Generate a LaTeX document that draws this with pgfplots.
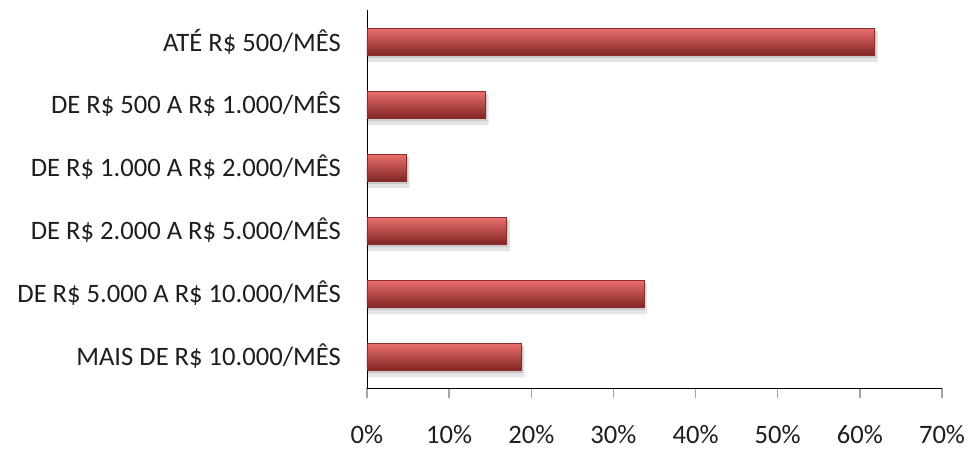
\documentclass[border=0pt]{standalone}
\usepackage{pgfplots}
\pgfplotsset{compat=1.18}
\usepackage{fontspec}
\setmainfont{Carlito}
\definecolor{axgray}{RGB}{166,166,166}
\definecolor{txt}{RGB}{30,30,30}
\definecolor{bartop}{RGB}{236,112,110}
\definecolor{barmid}{RGB}{200,66,64}
\definecolor{barbot}{RGB}{128,38,36}
\definecolor{baredge}{RGB}{140,45,43}
\begin{document}
\begin{tikzpicture}
\path[use as bounding box] (-367pt,-62pt) rectangle (604pt,388pt);
\begin{axis}[
  at={(0pt,0pt)}, anchor=south west,
  scale only axis, width=575pt, height=378pt,
  xmin=0, xmax=70, ymin=-0.5, ymax=5.5,
  y dir=reverse,
  axis x line*=bottom, axis y line*=left,
  axis line style={axgray, line width=1.3pt},
  every outer x axis line/.style={-}, every outer y axis line/.style={-},
  xtick={0,10,...,70},
  xticklabel={\pgfmathprintnumber{\tick}\%},
  tick align=outside,
  x tick style={axgray, line width=1.3pt},
  major tick length=10pt,
  ytick={0,1,2,3,4,5},
  y tick style={draw=none},
  yticklabels={ATÉ R\$ 500/MÊS, DE R\$ 500 A R\$ 1.000/MÊS, DE R\$ 1.000 A R\$ 2.000/MÊS, DE R\$ 2.000 A R\$ 5.000/MÊS, DE R\$ 5.000 A R\$ 10.000/MÊS, MAIS DE R\$ 10.000/MÊS},
  /pgf/number format/assume math mode=true,
  every tick label/.append style={font=\fontsize{26.6}{30}\selectfont, text=txt},
  yticklabel style={anchor=east, inner sep=0pt, xshift=-16pt},
  xticklabel style={anchor=base, inner sep=0pt, yshift=-45pt},
  xbar, bar width=27pt,
  clip=false,
  barstyle/.style={xbar, bar shift=0pt, top color=bartop, middle color=barmid, bottom color=barbot, draw=baredge, line width=0.6pt},
]
\addplot[xbar, bar shift=-5pt, fill=black, draw=none, opacity=0.10, bar width=31pt] coordinates {(62.2,0) (14.8,1) (5.2,2) (17.4,3) (34.1,4) (19.2,5)};
\addplot[xbar, bar shift=-3pt, fill=black, draw=none, opacity=0.12, bar width=27pt] coordinates {(62.0,0) (14.6,1) (5.0,2) (17.2,3) (33.9,4) (19.0,5)};
\addplot[barstyle] coordinates {(61.8,0)};
\addplot[barstyle] coordinates {(14.4,1)};
\addplot[barstyle] coordinates {(4.8,2)};
\addplot[barstyle] coordinates {(17.0,3)};
\addplot[barstyle] coordinates {(33.7,4)};
\addplot[barstyle] coordinates {(18.8,5)};
\end{axis}
\end{tikzpicture}
\end{document}
